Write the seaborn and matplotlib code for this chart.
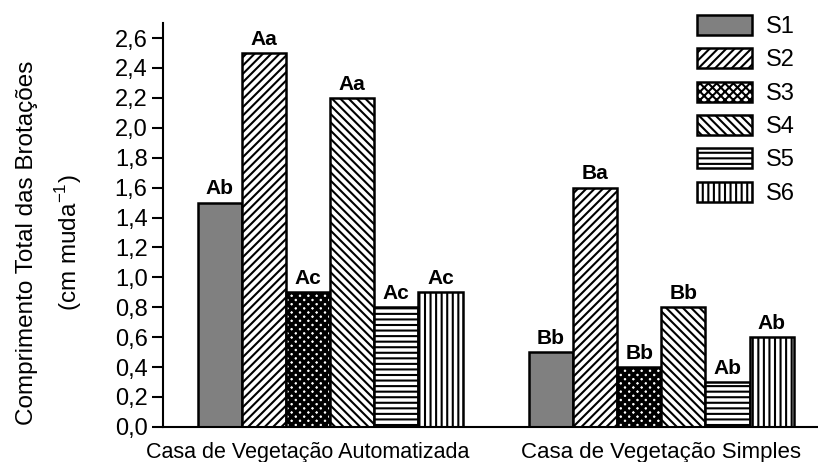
import matplotlib as mpl
import matplotlib.pyplot as plt
import seaborn as sns
import numpy as np
import pandas as pd

# data
groups = ['Casa de Vegetação Automatizada', 'Casa de Vegetação Simples']
series = ['S1', 'S2', 'S3', 'S4', 'S5', 'S6']
vals_auto = [1.5, 2.5, 0.9, 2.2, 0.8, 0.9]
vals_simp = [0.5, 1.6, 0.4, 0.8, 0.3, 0.6]
lbl_auto = ['Ab', 'Aa', 'Ac', 'Aa', 'Ac', 'Ac']
lbl_simp = ['Bb', 'Ba', 'Bb', 'Bb', 'Ab', 'Ab']
y_ticks = [0.0, 0.2, 0.4, 0.6, 0.8, 1.0, 1.2, 1.4, 1.6, 1.8, 2.0, 2.2, 2.4, 2.6]
y_tick_labels = ['0,0', '0,2', '0,4', '0,6', '0,8', '1,0', '1,2', '1,4', '1,6',
                 '1,8', '2,0', '2,2', '2,4', '2,6']

colors = ['#808080', 'white', 'white', 'white', 'white', 'white']
hatches = [None, '////', 'xxxx', '\\\\\\\\', '---', '|||']

sns.set_style('ticks')
plt.rcParams['font.family'] = ['Liberation Sans', 'DejaVu Sans']
plt.rcParams['mathtext.fontset'] = 'custom'
plt.rcParams['mathtext.rm'] = 'Liberation Sans'
plt.rcParams['hatch.linewidth'] = 1.5
plt.rcParams['hatch.color'] = 'black'
for k in ['text.color', 'axes.labelcolor', 'xtick.color', 'ytick.color', 'axes.edgecolor']:
    plt.rcParams[k] = 'black'

df = pd.DataFrame({
    'grupo': [groups[0]] * 6 + [groups[1]] * 6,
    'serie': series * 2,
    'valor': vals_auto + vals_simp,
})

fig = plt.figure(figsize=(8.18, 4.62), dpi=100)
ax = fig.add_axes([0.199, 0.076, 0.801, 0.874])

sns.barplot(data=df, x='grupo', y='valor', hue='serie', hue_order=series,
            palette=colors, saturation=1, width=0.8, errorbar=None,
            edgecolor='black', linewidth=1.8, legend=False, ax=ax)

for cont, h, a, s in zip(ax.containers, hatches, lbl_auto, lbl_simp):
    for p in cont.patches:
        if h:
            p.set_hatch(h)
        if h == 'xxxx' and hasattr(p, 'set_hatch_linewidth'):
            p.set_hatch_linewidth(2.6)
    ax.bar_label(cont, labels=[a, s], padding=3, fontsize=15, fontweight='bold')

ax.set_xlim(-0.505, 1.473)
ax.set_ylim(0, 2.7)
ax.set_yticks(y_ticks)
ax.set_yticklabels(y_tick_labels)
ax.tick_params(axis='y', direction='out', length=8, width=1.5, labelsize=17, pad=3)
ax.tick_params(axis='x', length=0, labelbottom=False)
ax.set_xlabel('')
ax.set_ylabel('')
for sp in ['top', 'right']:
    ax.spines[sp].set_visible(False)
for sp in ['left', 'bottom']:
    ax.spines[sp].set_linewidth(1.5)

# group names under the bars (first one sits a bit left of its group, as in the original)
for i, (g, dx, fs) in enumerate(zip(groups, [-16, 0], [15.5, 16])):
    ax.annotate(g, xy=(i, 0), xycoords=('data', 'axes fraction'),
                xytext=(dx, -11), textcoords='offset points',
                ha='center', va='top', fontsize=fs)

fig.text(0.061, 1 - 243 / 462, 'Comprimento Total das Brotações\n(cm muda$^{-1}$)',
         rotation=90, ha='center', va='center', multialignment='center',
         fontsize=17.5, linespacing=1.65)

ax.legend(ax.containers, series, loc='upper left', bbox_to_anchor=(697 / 818, 1 - 15 / 462),
          bbox_transform=fig.transFigure, frameon=False, fontsize=17,
          handlelength=2.33, handleheight=0.93, labelspacing=0.43, handletextpad=0.6,
          borderpad=0, borderaxespad=0)

fig.savefig('out.png', dpi=100)
